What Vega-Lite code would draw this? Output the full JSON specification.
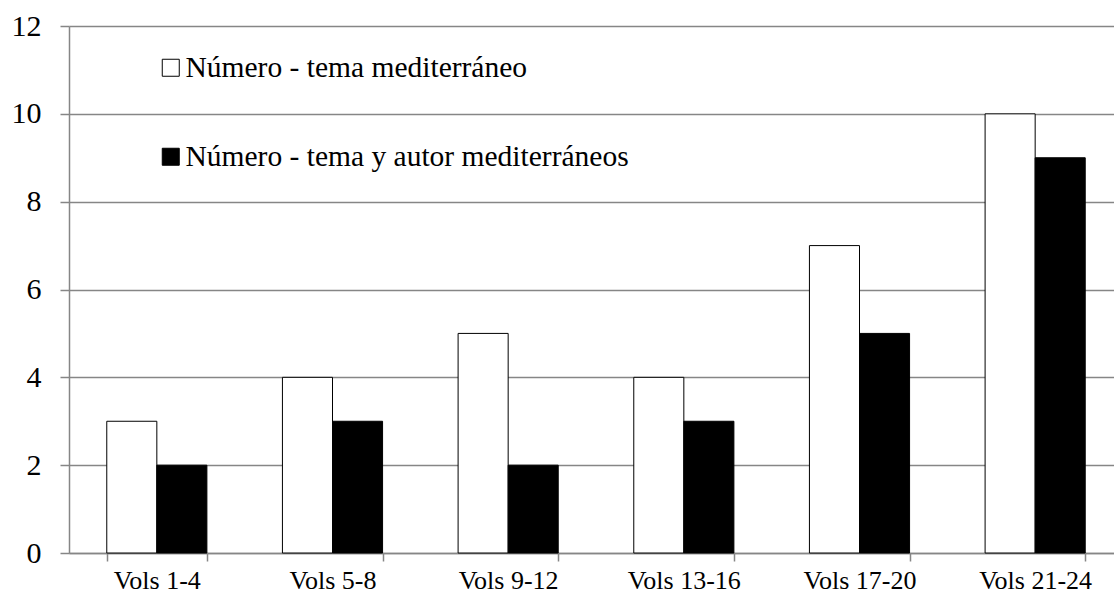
{
  "$schema": "https://vega.github.io/schema/vega-lite/v6.json",
  "width": 1045,
  "height": 527,
  "autosize": "none",
  "padding": {"left": 69, "top": 26, "right": 0, "bottom": 42},
  "background": "white",
  "config": {
    "font": "Liberation Serif",
    "view": {"stroke": null},
    "axis": {"labelFont": "Liberation Serif"},
    "legend": {"labelFont": "Liberation Serif"}
  },
  "data": {
    "values": [
      {"vol": "Vols 1-4", "serie": "Número - tema mediterráneo", "n": 3},
      {"vol": "Vols 1-4", "serie": "Número - tema y autor mediterráneos", "n": 2},
      {"vol": "Vols 5-8", "serie": "Número - tema mediterráneo", "n": 4},
      {"vol": "Vols 5-8", "serie": "Número - tema y autor mediterráneos", "n": 3},
      {"vol": "Vols 9-12", "serie": "Número - tema mediterráneo", "n": 5},
      {"vol": "Vols 9-12", "serie": "Número - tema y autor mediterráneos", "n": 2},
      {"vol": "Vols 13-16", "serie": "Número - tema mediterráneo", "n": 4},
      {"vol": "Vols 13-16", "serie": "Número - tema y autor mediterráneos", "n": 3},
      {"vol": "Vols 17-20", "serie": "Número - tema mediterráneo", "n": 7},
      {"vol": "Vols 17-20", "serie": "Número - tema y autor mediterráneos", "n": 5},
      {"vol": "Vols 21-24", "serie": "Número - tema mediterráneo", "n": 10},
      {"vol": "Vols 21-24", "serie": "Número - tema y autor mediterráneos", "n": 9}
    ]
  },
  "mark": {"type": "bar", "stroke": "black", "strokeWidth": 1},
  "encoding": {
    "x": {
      "field": "vol",
      "type": "nominal",
      "sort": null,
      "scale": {"range": [0, 1054], "paddingInner": 0.43, "paddingOuter": 0.215},
      "axis": {
        "title": null,
        "labelAngle": 0,
        "labelFont": "Liberation Serif",
        "labelFontSize": 26,
        "labelColor": "black",
        "labelPadding": 6,
        "tickBand": "extent",
        "tickSize": 8,
        "tickColor": "#868686",
        "domainColor": "#868686",
        "domainWidth": 1.5,
        "tickWidth": 1.5,
        "grid": false
      }
    },
    "xOffset": {"field": "serie", "type": "nominal"},
    "y": {
      "field": "n",
      "type": "quantitative",
      "scale": {"domain": [0, 12], "nice": false},
      "axis": {
        "title": null,
        "values": [0, 2, 4, 6, 8, 10, 12],
        "labelFont": "Liberation Serif",
        "labelFontSize": 30,
        "labelColor": "black",
        "labelPadding": 19,
        "tickSize": 9,
        "tickColor": "#868686",
        "tickWidth": 1.5,
        "domainColor": "#868686",
        "domainWidth": 1.5,
        "grid": true,
        "gridColor": "#868686",
        "gridWidth": 1.5,
        "gridOpacity": 1
      }
    },
    "color": {
      "field": "serie",
      "type": "nominal",
      "scale": {
        "domain": ["Número - tema mediterráneo", "Número - tema y autor mediterráneos"],
        "range": ["white", "black"]
      },
      "legend": {
        "title": null,
        "orient": "none",
        "legendX": 87,
        "legendY": 27,
        "symbolType": "square",
        "symbolSize": 289,
        "symbolStrokeColor": "black",
        "symbolStrokeWidth": 1,
        "labelFont": "Liberation Serif",
        "labelFontSize": 29.5,
        "labelColor": "black",
        "labelOffset": 0,
        "rowPadding": 58,
        "labelLimit": 0
      }
    }
  }
}
